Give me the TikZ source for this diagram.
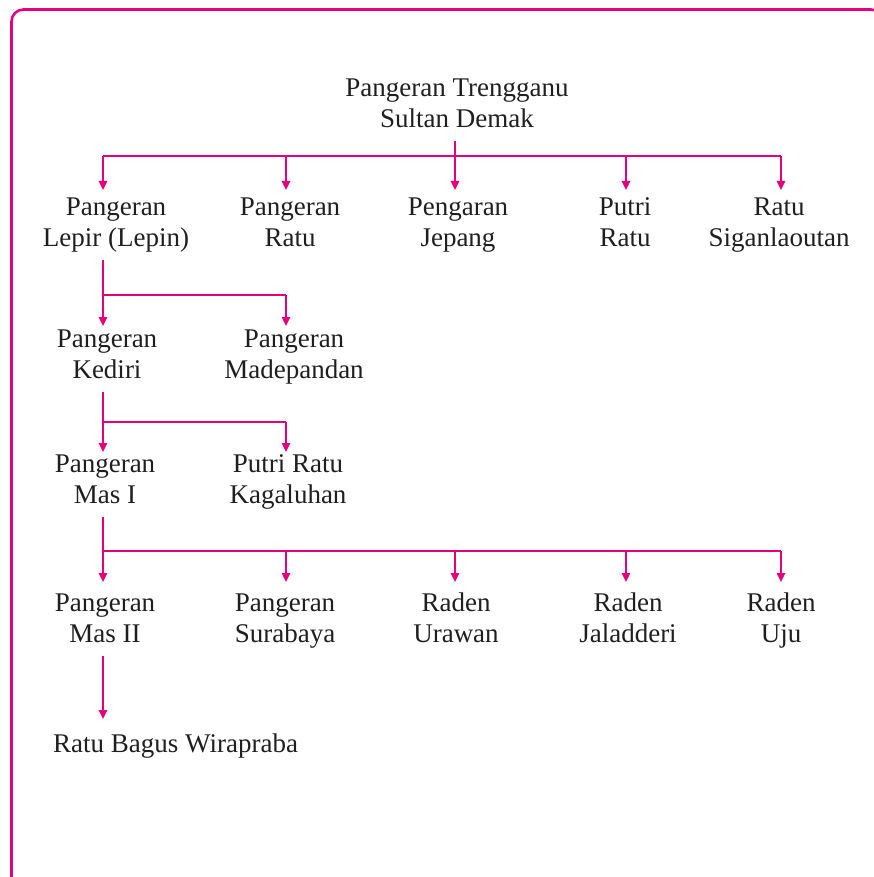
\documentclass[tikz,border=0pt]{standalone}
\usepackage{fontspec}
\setmainfont{Liberation Serif}
\usetikzlibrary{arrows.meta}
\definecolor{mag}{RGB}{230,0,126}
\newcommand\twoline[2]{\strut #1\\\strut #2}
\begin{document}
\begin{tikzpicture}[x=1pt,y=-1pt,
  every node/.style={inner sep=0pt, align=center, text=black!88, font=\fontsize{27}{31}\selectfont},
  link/.style={draw=mag, line width=1.3pt},
  arr/.style={link, -{Triangle[width=8.5pt,length=9pt]}},
  stub/.style={link, shorten <=4pt}]
\useasboundingbox (0,0) rectangle (874,877);
\draw[mag, line width=2.6pt, rounded corners=12pt] (11.5,900) -- (11.5,9.5) -- (883,9.5) -- (883,900);
% columns, bars, arrow tips
\coordinate (c1) at (103,0);
\coordinate (c2) at (286,0);
\coordinate (c3) at (455,0);
\coordinate (c4) at (626,0);
\coordinate (c5) at (781,0);
\coordinate (h0) at (0,156);
\coordinate (h1) at (0,295);
\coordinate (h2) at (0,422);
\coordinate (h3) at (0,551);
\coordinate (t0) at (0,190);
\coordinate (t1) at (0,326);
\coordinate (t2) at (0,452);
\coordinate (t3) at (0,582);
\coordinate (t4) at (0,719);
% nodes
\node (top) at (457,105.8) {\twoline{Pangeran Trengganu}{Sultan Demak}};
\node (a1) at (116,224.8) {\twoline{Pangeran}{Lepir (Lepin)}};
\node (a2) at (290,224.8) {\twoline{Pangeran}{Ratu}};
\node (a3) at (458,224.8) {\twoline{Pengaran}{Jepang}};
\node (a4) at (625,224.8) {\twoline{Putri}{Ratu}};
\node (a5) at (779,224.8) {\twoline{Ratu}{Siganlaoutan}};
\node (b1) at (107,356.8) {\twoline{Pangeran}{Kediri}};
\node (b2) at (294,356.8) {\twoline{Pangeran}{Madepandan}};
\node (d1) at (105,481.8) {\twoline{Pangeran}{Mas I}};
\node (d2) at (288,481.8) {\twoline{Putri Ratu}{Kagaluhan}};
\node (e1) at (105,620.8) {\twoline{Pangeran}{Mas II}};
\node (e2) at (285,620.8) {\twoline{Pangeran}{Surabaya}};
\node (e3) at (456,620.8) {\twoline{Raden}{Urawan}};
\node (e4) at (628,620.8) {\twoline{Raden}{Jaladderi}};
\node (e5) at (781,620.8) {\twoline{Raden}{Uju}};
\node[anchor=base west] (f1) at (53,752.5) {Ratu Bagus Wirapraba};
% level 0 -> 1
\draw[stub] (top.south -| c3) -- (c3 |- h0);
\draw[link] (c1 |- h0) -- (c5 |- h0);
\draw[arr] (c1 |- h0) -- (c1 |- t0);
\draw[arr] (c2 |- h0) -- (c2 |- t0);
\draw[arr] (c3 |- h0) -- (c3 |- t0);
\draw[arr] (c4 |- h0) -- (c4 |- t0);
\draw[arr] (c5 |- h0) -- (c5 |- t0);
% level 1 -> 2
\draw[stub] (a1.south -| c1) -- (c1 |- h1) -- (c2 |- h1);
\draw[arr] (c1 |- h1) -- (c1 |- t1);
\draw[arr] (c2 |- h1) -- (c2 |- t1);
% level 2 -> 3
\draw[stub] (b1.south -| c1) -- (c1 |- h2) -- (c2 |- h2);
\draw[arr] (c1 |- h2) -- (c1 |- t2);
\draw[arr] (c2 |- h2) -- (c2 |- t2);
% level 3 -> 4
\draw[stub] (d1.south -| c1) -- (c1 |- h3) -- (c5 |- h3);
\draw[arr] (c1 |- h3) -- (c1 |- t3);
\draw[arr] (c2 |- h3) -- (c2 |- t3);
\draw[arr] (c3 |- h3) -- (c3 |- t3);
\draw[arr] (c4 |- h3) -- (c4 |- t3);
\draw[arr] (c5 |- h3) -- (c5 |- t3);
% level 4 -> 5
\draw[arr, shorten <=4pt] (e1.south -| c1) -- (c1 |- t4);
\end{tikzpicture}
\end{document}
